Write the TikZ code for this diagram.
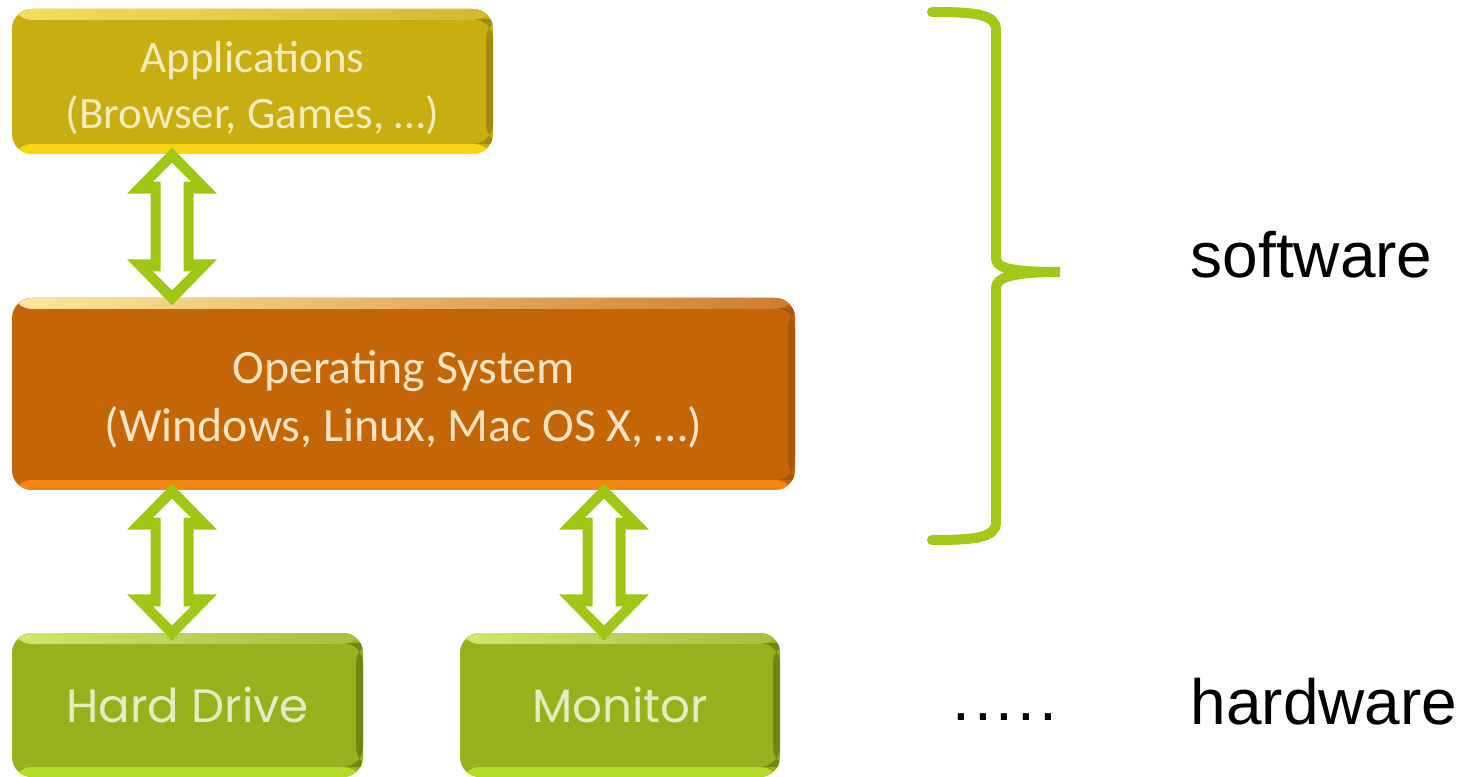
\documentclass[tikz,border=0pt]{standalone}
\usepackage{fontspec}
\setmainfont{Liberation Sans}
\newfontfamily\calibri{Carlito}
\newfontfamily\gothic{Poppins}
\usetikzlibrary{calc}

\definecolor{appgold}{RGB}{200,174,16}
\definecolor{appgoldtop}{RGB}{242,222,96}
\definecolor{appgoldlow}{RGB}{248,214,18}
\definecolor{osorange}{RGB}{196,102,8}
\definecolor{osorangetop}{RGB}{255,230,158}
\definecolor{osorangelow}{RGB}{244,134,18}
\definecolor{hwgreen}{RGB}{148,178,28}
\definecolor{hwgreentop}{RGB}{206,232,110}
\definecolor{hwgreenlow}{RGB}{178,220,40}
\definecolor{arrowgreen}{RGB}{160,198,22}
\definecolor{bracegreen}{RGB}{162,200,24}

% pushes the first text line a bit lower in its box
\newcommand\topgap{\rule{0pt}{0.44cm}}

\begin{document}
\begin{tikzpicture}[
layer/.style={rounded corners=0.2cm, inner sep=0pt, align=center},
hwbox/.style={rounded corners=0.2cm, inner sep=0pt,
	font=\gothic\fontsize{13.3}{16}\selectfont, text={rgb,255:red,228;green,236;blue,196}},
bevel/.style n args={4}{
	fill=#1,
	path picture={
		\fill[left color=#2, right color=#1!85!white] (path picture bounding box.north west) rectangle ([yshift=-0.11cm]path picture bounding box.north east);
		\fill[#3] (path picture bounding box.south west) rectangle ([yshift=0.1cm]path picture bounding box.south east);
		\fill[#4] ([yshift=-0.1cm]path picture bounding box.north east) rectangle ([xshift=-0.07cm,yshift=0.1cm]path picture bounding box.south east);
	}
},
fat/.style={fill=arrowgreen, even odd rule, to path={
	let \p1=(\tikztostart), \p2=(\tikztotarget) in
	(\x1,\y1+0.07cm) -- (\x1+0.45cm,\y1-0.39cm) -- (\x1+0.215cm,\y1-0.39cm)
	-- (\x1+0.215cm,\y2+0.38cm) -- (\x1+0.45cm,\y2+0.38cm) -- (\x1,\y2-0.08cm)
	-- (\x1-0.45cm,\y2+0.38cm) -- (\x1-0.215cm,\y2+0.38cm)
	-- (\x1-0.215cm,\y1-0.39cm) -- (\x1-0.45cm,\y1-0.39cm) -- cycle
	(\x1,\y1-0.08cm) -- (\x1+0.19cm,\y1-0.27cm) -- (\x1+0.115cm,\y1-0.27cm)
	-- (\x1+0.115cm,\y2+0.26cm) -- (\x1+0.19cm,\y2+0.26cm) -- (\x1,\y2+0.07cm)
	-- (\x1-0.19cm,\y2+0.26cm) -- (\x1-0.115cm,\y2+0.26cm)
	-- (\x1-0.115cm,\y1-0.27cm) -- (\x1-0.19cm,\y1-0.27cm) -- cycle}
},
brace/.style={draw=bracegreen, line width=0.1cm, line cap=round},
sidetext/.style={font=\fontsize{18.2}{22}\selectfont, inner sep=0pt, anchor=base west}
]
\useasboundingbox (0,0) rectangle (14.66,7.76);

% software layers
\node[layer, bevel={appgold}{appgoldtop}{appgoldlow}{appgold!80!black},
	font=\calibri\fontsize{12.8}{15.8}\selectfont,
	text={rgb,255:red,242;green,236;blue,190},
	minimum width=4.81cm, minimum height=1.45cm] (app) at (2.525,6.945)
	{\topgap Applications\\(Browser, Games, …)};
\node[layer, bevel={osorange}{osorangetop}{osorangelow}{osorange!85!black},
	font=\calibri\fontsize{13.6}{16.6}\selectfont,
	text={rgb,255:red,250;green,228;blue,195},
	minimum width=7.83cm, minimum height=1.92cm] (os) at (4.035,3.82)
	{\topgap Operating System\\(Windows, Linux, Mac OS X, …)};

% hardware
\node[hwbox, bevel={hwgreen}{hwgreentop}{hwgreenlow}{hwgreen!75!black},
	minimum width=3.51cm, minimum height=1.44cm] (hd) at (1.875,0.71) {Hard Drive};
\node[hwbox, bevel={hwgreen}{hwgreentop}{hwgreenlow}{hwgreen!75!black},
	minimum width=3.2cm, minimum height=1.44cm] (mon) at (6.2,0.71) {Monitor};

% double arrows between layers
\coordinate (ax) at (1.72,0);
\coordinate (bx) at (6.04,0);
\path[fat] (app.south -| ax) to (os.north -| ax);
\path[fat] (os.south -| ax) to (hd.north -| ax);
\path[fat] (os.south -| bx) to (mon.north -| bx);

% brace over the software part
\draw[brace] (9.32,7.64) .. controls (9.75,7.64) and (9.96,7.62) .. (9.96,7.46)
	-- (9.96,5.18) .. controls (9.96,5.08) and (10.10,5.04) .. (10.60,5.04)
	.. controls (10.10,5.04) and (9.96,4.98) .. (9.96,4.88)
	-- (9.96,2.54) .. controls (9.96,2.38) and (9.75,2.36) .. (9.32,2.36);

\node[sidetext] (sw) at (11.9,4.98) {software};
\node[sidetext] (hw) at (11.9,0.52) {hardware};
\node[sidetext] (more) at (9.52,0.56) {\addfontfeature{LetterSpace=6}.....};
\end{tikzpicture}
\end{document}
